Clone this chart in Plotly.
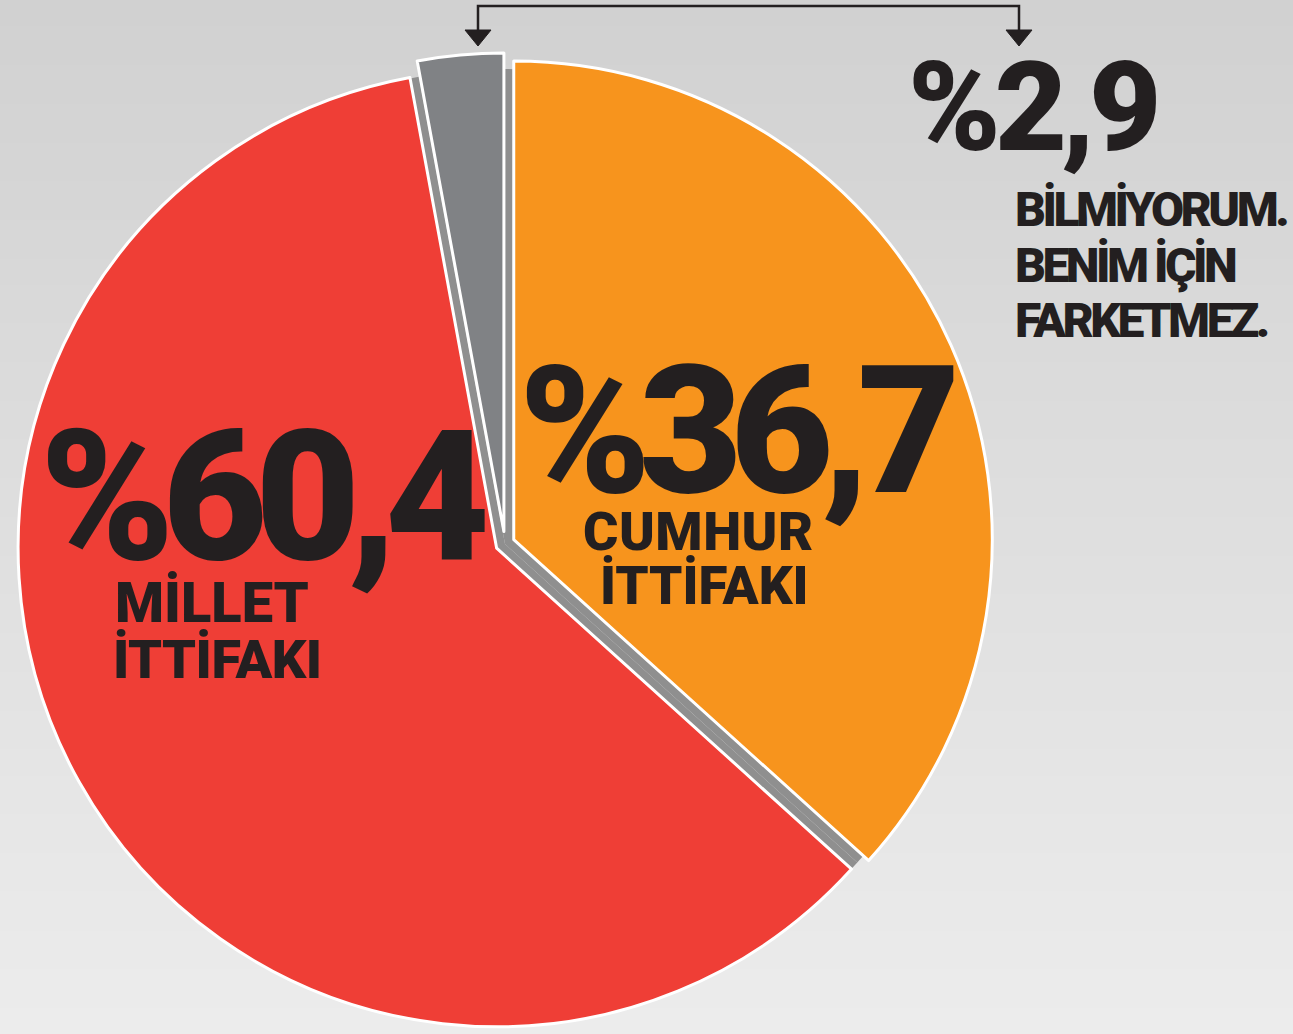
import plotly.graph_objects as go

# ---- data ----
labels = ["CUMHUR İTTİFAKI", "MİLLET İTTİFAKI", "BİLMİYORUM. BENİM İÇİN FARKETMEZ."]
values = [36.7, 60.4, 2.9]
value_labels = ["%36,7", "%60,4", "%2,9"]
name_lines = [["CUMHUR", "İTTİFAKI"], ["MİLLET", "İTTİFAKI"], ["BİLMİYORUM.", "BENİM İÇİN", "FARKETMEZ."]]
colors = ["#F7941D", "#EF3E36", "#808285"]
pulls = [0.02, 0.02, 0.025]

W, H = 1293, 1034
TXT = "#231F20"
FONT = "Roboto"

def px(x):
    return x / W

def py(y):
    return 1 - y / H

def clamp(v):
    return min(1.0, max(0.0, v))

# pie geometry (pixels)
cx, cy, R = 505, 544, 479
maxpull = max(pulls)
half = R * (1 + maxpull)
dom = dict(x=[clamp(px(cx - half)), clamp(px(cx + half))],
           y=[clamp(py(cy + half)), clamp(py(cy - half))])
rs = R - 4
dom_shadow = dict(x=[px(cx - rs), px(cx + rs)], y=[py(cy + rs), py(cy - rs)])

fig = go.Figure()

# shadow beneath the exploded slices
fig.add_trace(go.Pie(
    values=values, labels=labels, sort=False, direction="clockwise", rotation=0,
    marker=dict(colors=["#8f8f8f"] * len(values), line=dict(width=0)),
    textinfo="none", hoverinfo="skip", showlegend=False, domain=dom_shadow,
))

fig.add_trace(go.Pie(
    values=values, labels=labels, sort=False, direction="clockwise", rotation=0,
    pull=pulls,
    marker=dict(colors=colors, line=dict(color="white", width=3)),
    textinfo="none", showlegend=False, domain=dom,
))

# background gradient bands
shapes = []
n = 80
top_c, bot_c = (209, 209, 209), (236, 236, 236)
for i in range(n):
    t = i / (n - 1)
    c = tuple(int(round(top_c[k] + (bot_c[k] - top_c[k]) * t)) for k in range(3))
    shapes.append(dict(type="rect", xref="paper", yref="paper",
                       x0=0, x1=1, y0=max(0, 1 - (i + 1) / n - 0.002), y1=1 - i / n,
                       fillcolor=f"rgb{c}", line=dict(width=0), layer="below"))

# bracket with arrows
lw = 2.5
shapes.append(dict(type="path", xref="paper", yref="paper",
                   path=f"M {px(478)},{py(32)} L {px(478)},{py(6)} L {px(1019)},{py(6)} L {px(1019)},{py(32)}",
                   line=dict(color=TXT, width=lw), layer="above"))
for ax_ in (478, 1019):
    shapes.append(dict(type="path", xref="paper", yref="paper",
                       path=f"M {px(ax_-13)},{py(30)} L {px(ax_+13)},{py(30)} L {px(ax_)},{py(46)} Z",
                       fillcolor=TXT, line=dict(color=TXT, width=1), layer="above"))

def txt(s, ls):
    return f'<span style="letter-spacing:{ls}px">{s}</span>'

# (text, x, y, size, letter-spacing, anchor)
items = [
    (value_labels[1], 262, 497, 181, -12, "center"),
    (value_labels[0], 736, 431, 178, -12, "center"),
    (value_labels[2], 1032, 107, 125, -6, "center"),
    (name_lines[1][0], 212, 603, 56, 0, "center"),
    (name_lines[1][1], 217, 659, 54, -0.5, "center"),
    (name_lines[0][0], 698, 531, 54, 0.5, "center"),
    (name_lines[0][1], 704, 586, 53, 0, "center"),
    (name_lines[2][0], 1013, 210, 48, -3.5, "left"),
    (name_lines[2][1], 1013, 265, 48, -3.5, "left"),
    (name_lines[2][2], 1013, 320, 48, -3.5, "left"),
]
ann = []
for s, x, y, size, ls, anc in items:
    ann.append(dict(text=txt(s, ls), x=px(x), y=py(y), xref="paper", yref="paper",
                    xanchor=anc, yanchor="middle", showarrow=False,
                    font=dict(family=FONT, size=size, color=TXT, weight=900)))

fig.update_layout(
    width=W, height=H,
    margin=dict(l=0, r=0, t=0, b=0),
    paper_bgcolor="#dedede", plot_bgcolor="#dedede",
    shapes=shapes, annotations=ann,
    showlegend=False,
)

fig.write_html("out.html", post_script="document.body.style.margin='0';",
               config={"displayModeBar": False})
